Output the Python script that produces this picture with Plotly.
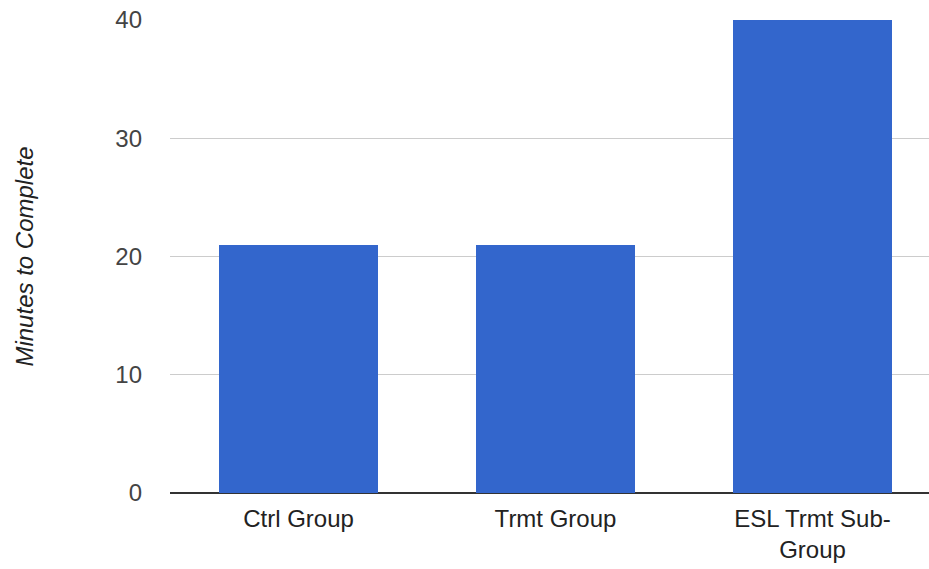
import plotly.graph_objects as go

categories = ["Ctrl Group", "Trmt Group", "ESL Trmt Sub-<br>Group"]
values = [21, 21, 40]
y_ticks = [0, 10, 20, 30, 40]

fig = go.Figure(go.Bar(
    x=list(range(len(categories))),
    y=values,
    width=0.615,
    marker=dict(color="#3366cc", line=dict(width=0)),
))

fig.update_layout(
    width=929, height=569,
    margin=dict(l=170, r=0, t=20, b=76),
    paper_bgcolor="white", plot_bgcolor="white",
    font=dict(family="Liberation Sans, Arial, sans-serif", size=24, color="#444"),
    showlegend=False,
    bargap=0,
)
fig.update_xaxes(
    tickmode="array", tickvals=list(range(len(categories))), ticktext=categories,
    range=[-0.5, -0.5 + 759 / 257],
    showgrid=False, zeroline=False, showline=False, ticks="",
    automargin=False, ticklabelstandoff=9,
    tickfont=dict(size=24, color="#222"),
)
fig.update_yaxes(
    range=[0, 40], tickvals=y_ticks,
    showgrid=True, gridcolor="#cccccc", gridwidth=1,
    zeroline=True, zerolinecolor="#333333", zerolinewidth=2,
    showline=False, ticks="", ticklabelstandoff=27, automargin=False,
    tickfont=dict(size=24, color="#444"),
    title=dict(text="<i>Minutes to Complete</i>", font=dict(size=24, color="#222"), standoff=74),
)

fig.write_html(
    "out.html",
    config={"displayModeBar": False},
    post_script="document.body.style.margin='0';document.body.style.overflow='hidden';",
)
